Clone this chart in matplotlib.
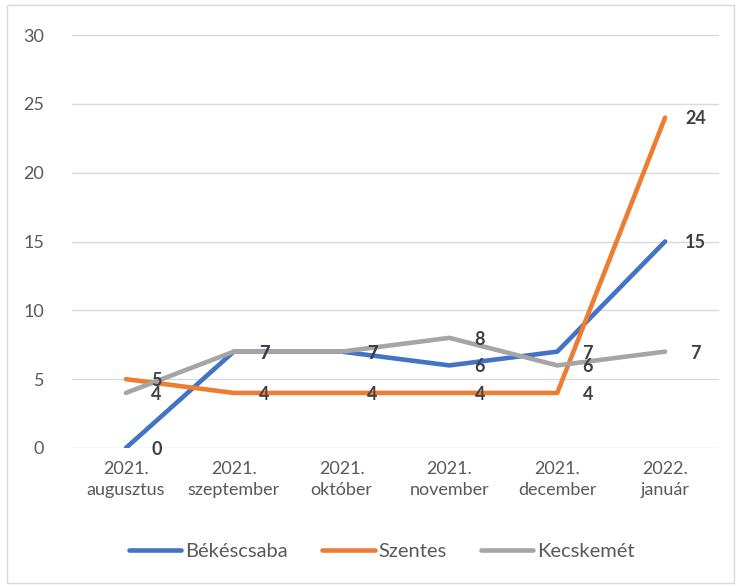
import matplotlib.pyplot as plt
from matplotlib.patches import Rectangle

# Data
months = ["2021.\naugusztus", "2021.\nszeptember", "2021.\noktóber",
          "2021.\nnovember", "2021.\ndecember", "2022.\njanuár"]
bekescsaba = [0, 7, 7, 6, 7, 15]
szentes = [5, 4, 4, 4, 4, 24]
kecskemet = [4, 7, 7, 8, 6, 7]

series = [("Békéscsaba", bekescsaba, "#4472C4"),
          ("Szentes", szentes, "#ED7D31"),
          ("Kecskemét", kecskemet, "#A5A5A5")]

plt.rcParams['font.family'] = ['Lato', 'DejaVu Sans']

fig = plt.figure(figsize=(7.42, 5.87), dpi=100)
ax = fig.add_axes([72 / 742, 1 - 448 / 587, 647 / 742, 413 / 587])

x = list(range(len(months)))
for name, vals, color in series:
    ax.plot(x, vals, color=color, lw=3.3, label=name, solid_capstyle='round')
    for xi, v in zip(x, vals):
        ax.annotate(str(v), (xi, v), xytext=(22, -1), textcoords='offset points',
                    ha='center', va='center', fontsize=13, fontweight='bold',
                    color='#404040')

ax.set_xlim(-0.5, len(months) - 0.5)
ax.set_ylim(0, 30)
ax.set_yticks(range(0, 31, 5))
ax.set_xticks(x)
ax.set_xticklabels(months, linespacing=1.45)
ax.grid(axis='y', color='#D9D9D9', lw=1)
ax.set_axisbelow(True)
for s in ax.spines.values():
    s.set_visible(False)
ax.tick_params(length=0, labelsize=13, labelcolor='#595959')
ax.tick_params(axis='y', pad=20)
ax.tick_params(axis='x', pad=9)

leg = fig.legend(loc='center', bbox_to_anchor=(382 / 742, 1 - 551 / 587), ncol=3,
                 frameon=False, fontsize=14.5, handlelength=2.6, columnspacing=1.7,
                 handletextpad=0.2)
for t in leg.get_texts():
    t.set_color('#595959')
for h in leg.get_lines():
    h.set_linewidth(3.3)

# outer chart border
fig.patches.append(Rectangle((7 / 742, 4 / 587), 727 / 742, 578 / 587,
                             transform=fig.transFigure, fill=False,
                             edgecolor='#D9D9D9', lw=1))

fig.savefig("out.png", dpi=100)
